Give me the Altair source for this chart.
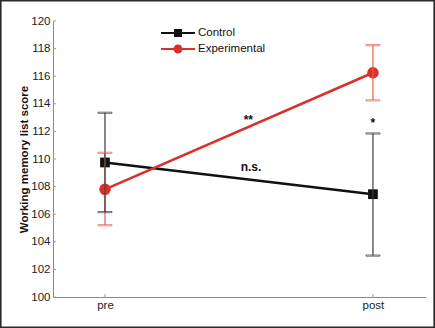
import altair as alt
import pandas as pd

# ---- data ----
groups = ["Control", "Control", "Experimental", "Experimental"]
phase = [0, 1, 0, 1]
mean = [109.75, 107.45, 107.8, 116.25]
low = [106.15, 103.0, 105.2, 114.25]
high = [113.35, 111.85, 110.45, 118.25]
phase_labels = ["pre", "post"]
y_tick_values = [100, 102, 104, 106, 108, 110, 112, 114, 116, 118, 120]
x_tick_values = [0, 1]
notes = ["**", "*", "n.s."]
note_x = [0.535, 1.0, 0.545]
note_y = [112.85, 112.6, 109.4]

RED = "#d9302a"
BLACK = "#111111"
GROUPS = ["Control", "Experimental"]

df = pd.DataFrame({"group": groups, "phase": phase, "mean": mean, "low": low, "high": high})
df_err = df.iloc[::-1].reset_index(drop=True)  # Control error bars drawn last (on top)
notes_df = pd.DataFrame({"txt": notes, "x": note_x, "y": note_y})
yt_df = pd.DataFrame({"v": y_tick_values})
xt_df = pd.DataFrame({"v": x_tick_values})

FONT = "Liberation Sans"
xscale = alt.Scale(domain=[-0.194, 1.198], nice=False, zero=False)
yscale = alt.Scale(domain=[100, 120], nice=False, zero=False)

label_expr = "datum.value == 0 ? '" + phase_labels[0] + "' : '" + phase_labels[1] + "'"
xaxis = alt.Axis(values=x_tick_values, labelExpr=label_expr, title=None, grid=False,
                 tickSize=0, labelPadding=2, domainColor="#8a8a8a", labelColor="#222",
                 labelFontSize=11.5, labelFont=FONT)
yaxis = alt.Axis(values=y_tick_values, title="Working memory list score", grid=False,
                 tickSize=0, labelPadding=3, domainColor="#8a8a8a", labelColor="#222",
                 labelFontSize=11.5, labelFont=FONT, titleFont=FONT, titleFontSize=11.5,
                 titleFontWeight="bold", titleColor="#111", titlePadding=1,
                 labelOverlap=False)


def X(field):
    return alt.X(field, type="quantitative", scale=xscale, axis=xaxis)


def Y(field):
    return alt.Y(field, type="quantitative", scale=yscale, axis=yaxis)


color_scale = alt.Scale(domain=GROUPS, range=[BLACK, RED])

# legend symbols: a line with a (stroke-filled) square / circle on it
sq_path = ("M-3.4,0H3.4M-0.6,-0.6H0.6V0.6H-0.6ZM-0.25,-0.25H0.25V0.25H-0.25Z"
           "M0,-0.6V0.6")
ci_path = ("M-3.4,0H3.4M0.7,0A0.7,0.7,0,1,1,-0.7,0A0.7,0.7,0,1,1,0.7,0Z"
           "M0.3,0A0.3,0.3,0,1,1,-0.3,0A0.3,0.3,0,1,1,0.3,0ZM0,-0.5V0.5")

legend = alt.Legend(
    title=None, orient="none", legendX=119, legendY=6, padding=0,
    symbolSize=100, symbolStrokeWidth=2, symbolOpacity=1, labelOffset=14, rowPadding=1,
    labelFontSize=11.5, labelFont=FONT, labelColor="#111",
)

COLOR = alt.Color("group:N", scale=color_scale, legend=legend)

lines = alt.Chart(df).mark_line(strokeWidth=2.5).encode(
    x=X("phase"), y=Y("mean"), color=COLOR, detail="group:N"
)

pts_sq = alt.Chart(df).transform_filter(alt.datum.group == GROUPS[0]).mark_point(
    filled=True, opacity=1, strokeWidth=0, shape="square", size=95
).encode(x=X("phase"), y=Y("mean"), color=COLOR)

pts_ci = alt.Chart(df).transform_filter(alt.datum.group == GROUPS[1]).mark_point(
    filled=True, opacity=1, strokeWidth=0, shape="circle", size=135
).encode(x=X("phase"), y=Y("mean"), color=COLOR)

legend_layer = alt.Chart(df).mark_point(filled=False, opacity=0, strokeWidth=2).encode(
    x=X("phase"), y=Y("mean"),
    color=COLOR,
    shape=alt.Shape("group:N", scale=alt.Scale(domain=GROUPS, range=[sq_path, ci_path]), legend=legend),
)

err_stroke = alt.Stroke("group:N", scale=alt.Scale(domain=GROUPS, range=["#3a3a3a", "#e5604c"]), legend=None)

err_rule = alt.Chart(df_err).mark_rule(strokeWidth=1.2).encode(
    x=X("phase"), y=Y("low"), y2="high:Q", stroke=err_stroke
)
cap_lo = alt.Chart(df_err).mark_tick(orient="horizontal", size=14, thickness=1.2, filled=False).encode(
    x=X("phase"), y=Y("low"), stroke=err_stroke
)
cap_hi = alt.Chart(df_err).mark_tick(orient="horizontal", size=14, thickness=1.2, filled=False).encode(
    x=X("phase"), y=Y("high"), stroke=err_stroke
)

text = alt.Chart(notes_df).mark_text(fontWeight="bold", fontSize=12, font=FONT, color="#111", baseline="middle").encode(
    x=X("x"), y=Y("y"), text="txt:N"
)

ytick_marks = alt.Chart(yt_df).mark_rule(color="#9a9a9a", strokeWidth=1).encode(
    y=Y("v"), x=alt.value(0), x2=alt.value(3)
)
xtick_marks = alt.Chart(xt_df).mark_rule(color="#9a9a9a", strokeWidth=1).encode(
    x=X("v"), y=alt.value(273), y2=alt.value(276)
)

frame = alt.Chart(pd.DataFrame({"a": [0]})).mark_rect(filled=False, stroke="#2a2a2a", strokeWidth=1.6).encode(
    x=alt.value(-52.2), x2=alt.value(381.2), y=alt.value(-20.2), y2=alt.value(306.2)
)

chart = alt.layer(
    ytick_marks, xtick_marks, lines, pts_sq, pts_ci, legend_layer, err_rule, cap_lo, cap_hi, text, frame
).properties(
    width=373, height=276,
    autosize=alt.AutoSizeParams(type="none"),
    padding={"left": 53, "top": 21, "right": 9, "bottom": 31},
    background="white",
).configure_view(stroke=None)

chart.save("out.html", embed_options={"renderer": "svg", "actions": False})
